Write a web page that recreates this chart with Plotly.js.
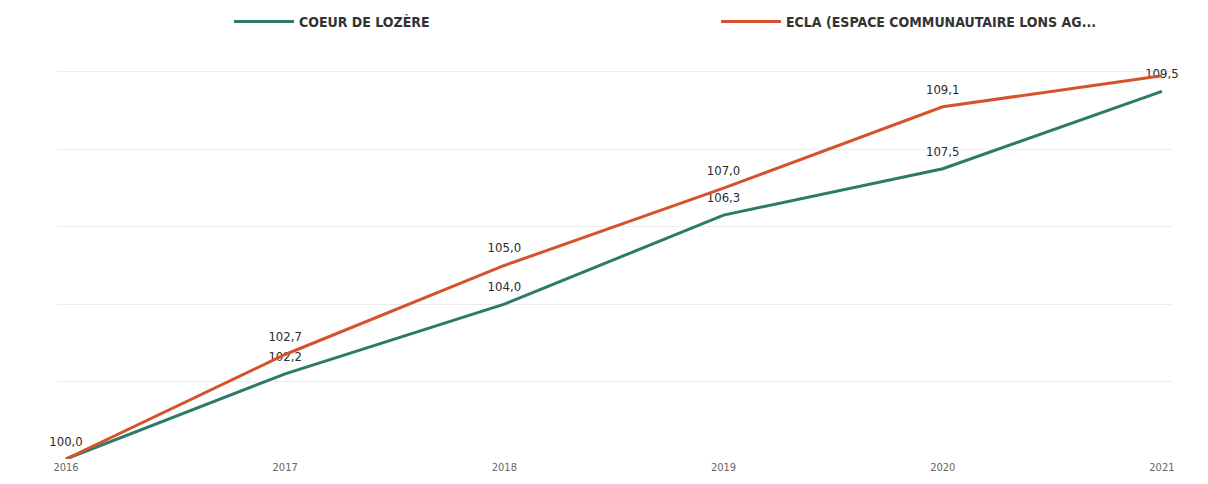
<!DOCTYPE html>
<html>
<head>
<meta charset="utf-8">
<script src="https://cdn.plot.ly/plotly-3.0.1.min.js"></script>
<style>html,body{margin:0;padding:0;background:#fff;}#chart{width:1208px;height:484px;}</style>
</head>
<body>
<div id="chart"></div>
<script>
const years = [2016, 2017, 2018, 2019, 2020, 2021];
const seriesNames = ["COEUR DE LOZÈRE", "ECLA (ESPACE COMMUNAUTAIRE LONS AG..."];
const coeurValues = [100.0, 102.2, 104.0, 106.3, 107.5, 109.5];
const eclaValues = [100.0, 102.7, 105.0, 107.0, 109.1, 109.9];
const coeurLabels = ["100,0", "102,2", "104,0", "106,3", "107,5", "109,5"];
const eclaLabels = ["", "102,7", "105,0", "107,0", "109,1", ""];

const FONT = "'DejaVu Sans Condensed', 'Liberation Sans Narrow', sans-serif";

const traces = [
  {
    x: years, y: coeurValues, name: seriesNames[0], type: 'scatter', mode: 'lines+markers+text',
    line: {color: '#2d7a6c', width: 3},
    marker: {size: 14, color: 'rgba(0,0,0,0)'},
    text: coeurLabels, textposition: 'top center',
    textfont: {family: FONT, size: 13, color: '#2b2b2b'},
    cliponaxis: false, legend: 'legend'
  },
  {
    x: years, y: eclaValues, name: seriesNames[1], type: 'scatter', mode: 'lines+markers+text',
    line: {color: '#d5522c', width: 3},
    marker: {size: 14, color: 'rgba(0,0,0,0)'},
    text: eclaLabels, textposition: 'top center',
    textfont: {family: FONT, size: 13, color: '#2b2b2b'},
    cliponaxis: false, legend: 'legend2'
  }
];

const legendStyle = {
  orientation: 'h', xref: 'container', yref: 'container',
  xanchor: 'left', y: 0.955, yanchor: 'middle',
  font: {family: FONT, size: 14, color: '#333', weight: 'bold'},
  itemwidth: 60, bgcolor: 'rgba(0,0,0,0)'
};

const layout = {
  width: 1208, height: 484,
  margin: {l: 57, r: 36, t: 70, b: 25, pad: 0},
  paper_bgcolor: '#fff', plot_bgcolor: '#fff',
  separators: ', ',
  showlegend: true,
  legend: Object.assign({}, legendStyle, {x: 229 / 1208}),
  legend2: Object.assign({}, legendStyle, {x: 716 / 1208}),
  xaxis: {
    range: [2015.959, 2021.046], tickvals: years, ticktext: years.map(String),
    showgrid: false, zeroline: false, showline: false, ticks: '',
    tickfont: {family: FONT, size: 11, color: '#666'}, fixedrange: true
  },
  yaxis: {
    range: [100, 110.05], dtick: 2, tick0: 100,
    showgrid: true, gridcolor: '#ececec', gridwidth: 1,
    zeroline: false, showline: false, showticklabels: false, ticks: '', fixedrange: true
  }
};

Plotly.newPlot('chart', traces, layout, {displayModeBar: false, staticPlot: true});
</script>
</body>
</html>
